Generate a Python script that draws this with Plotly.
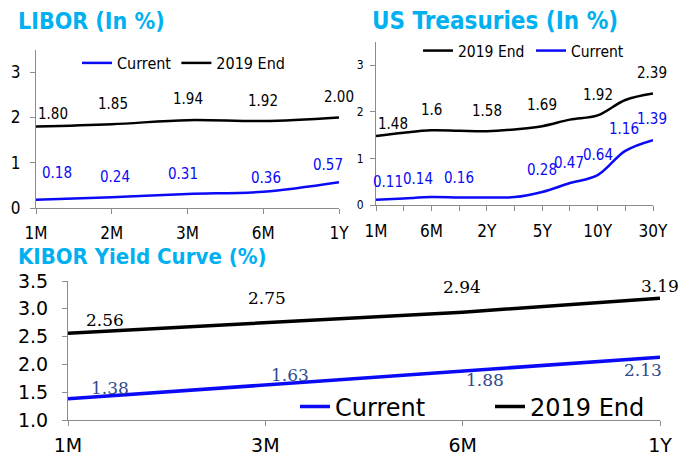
import plotly.graph_objects as go

# ---------------- data ----------------
libor_tenors = ["1M", "2M", "3M", "6M", "1Y"]
libor_current = [0.18, 0.24, 0.31, 0.36, 0.57]
libor_2019 = [1.80, 1.85, 1.94, 1.92, 2.00]

ust_tenors = ["1M", "3M", "6M", "1Y", "2Y", "3Y", "5Y", "7Y", "10Y", "20Y", "30Y"]
ust_tick_labels = ["1M", "", "6M", "", "2Y", "", "5Y", "", "10Y", "", "30Y"]
ust_2019 = [1.48, 1.55, 1.60, 1.59, 1.58, 1.62, 1.69, 1.83, 1.92, 2.25, 2.39]
ust_current = [0.11, 0.14, 0.17, 0.16, 0.16, 0.17, 0.28, 0.47, 0.64, 1.16, 1.39]
ust_2019_labels = ["1.48", "", "1.6", "", "1.58", "", "1.69", "", "1.92", "", "2.39"]
ust_current_labels = ["0.11", "0.14", "", "0.16", "", "", "0.28", "0.47", "0.64", "1.16", "1.39"]

kibor_tenors = ["1M", "3M", "6M", "1Y"]
kibor_current = [1.38, 1.63, 1.88, 2.13]
kibor_2019 = [2.56, 2.75, 2.94, 3.19]

# ---------------- styles ----------------
FONT = "DejaVu Sans Condensed, DejaVu Sans, sans-serif"
REG = "DejaVu Sans, sans-serif"
SERIF = "DejaVu Serif, serif"
BLUE = "#0A0AF5"
TITLE = "#00B0F0"
AX = "#8C8C8C"

W, H = 694, 457
def px(x): return x / W
def py(y): return 1 - y / H

fig = go.Figure()

lib_x = list(range(len(libor_tenors)))
ust_x = list(range(len(ust_tenors)))
kib_x = list(range(len(kibor_tenors)))

# LIBOR
fig.add_trace(go.Scatter(x=lib_x, y=libor_current, name="Current", mode="lines",
                         line=dict(color=BLUE, width=2.5, shape="spline"),
                         xaxis="x", yaxis="y", legend="legend"))
fig.add_trace(go.Scatter(x=lib_x, y=libor_2019, name="2019 End", mode="lines",
                         line=dict(color="black", width=2.5, shape="spline"),
                         xaxis="x", yaxis="y", legend="legend"))
# UST
fig.add_trace(go.Scatter(x=ust_x, y=ust_2019, name="2019 End", mode="lines",
                         line=dict(color="black", width=2.5, shape="spline"),
                         xaxis="x2", yaxis="y2", legend="legend2"))
fig.add_trace(go.Scatter(x=ust_x, y=ust_current, name="Current", mode="lines",
                         line=dict(color=BLUE, width=2.5, shape="spline"),
                         xaxis="x2", yaxis="y2", legend="legend2"))
# KIBOR
fig.add_trace(go.Scatter(x=kib_x, y=kibor_current, name="Current", mode="lines",
                         line=dict(color=BLUE, width=3.5),
                         xaxis="x3", yaxis="y3", legend="legend3"))
fig.add_trace(go.Scatter(x=kib_x, y=kibor_2019, name="2019 End", mode="lines",
                         line=dict(color="black", width=3.5),
                         xaxis="x3", yaxis="y3", legend="legend3"))

ann = []
# label offsets (xshift, yshift)
lib_2019_off = [(17, 12), (1, 20), (0, 21), (0, 20), (0, 20)]
lib_cur_off = [(21, 27), (3, 20), (-5, 20), (3, 14), (-11, 17)]
for i, v in enumerate(libor_2019):
    ann.append(dict(x=i, y=v, xref="x", yref="y", text=f"{v:.2f}", showarrow=False,
                    xshift=lib_2019_off[i][0], yshift=lib_2019_off[i][1],
                    font=dict(family=FONT, size=15, color="black")))
for i, v in enumerate(libor_current):
    ann.append(dict(x=i, y=v, xref="x", yref="y", text=f"{v:.2f}", showarrow=False,
                    xshift=lib_cur_off[i][0], yshift=lib_cur_off[i][1],
                    font=dict(family=FONT, size=15, color=BLUE)))

ust_2019_off = [(17, 12), (0, 21), (0, 20), (0, 0), (0, 20), (0, 0), (0, 21), (0, 0), (0, 20), (0, 0), (-1, 20)]
ust_cur_off = [(12, 18), (14, 19), (0, 0), (0, 20), (0, 0), (0, 0), (0, 22), (-1, 20), (0, 20), (-1, 22), (-1, 21)]
for i, v in enumerate(ust_2019):
    if ust_2019_labels[i]:
        ann.append(dict(x=i, y=v, xref="x2", yref="y2", text=ust_2019_labels[i], showarrow=False,
                        xshift=ust_2019_off[i][0], yshift=ust_2019_off[i][1],
                        font=dict(family=FONT, size=15, color="black")))
for i, v in enumerate(ust_current):
    if ust_current_labels[i]:
        ann.append(dict(x=i, y=v, xref="x2", yref="y2", text=ust_current_labels[i], showarrow=False,
                        xshift=ust_cur_off[i][0], yshift=ust_cur_off[i][1],
                        font=dict(family=FONT, size=15, color=BLUE)))

kib_2019_off = [(37, 13), (2, 25), (-1, 25), (0, 12)]
kib_cur_off = [(42, 11), (25, 10), (22, -9), (-17, -13)]
for i, v in enumerate(kibor_2019):
    ann.append(dict(x=i, y=v, xref="x3", yref="y3", text=f"{v:.2f}", showarrow=False,
                    xshift=kib_2019_off[i][0], yshift=kib_2019_off[i][1],
                    font=dict(family=SERIF, size=17, color="black")))
for i, v in enumerate(kibor_current):
    ann.append(dict(x=i, y=v, xref="x3", yref="y3", text=f"{v:.2f}", showarrow=False,
                    xshift=kib_cur_off[i][0], yshift=kib_cur_off[i][1],
                    font=dict(family=SERIF, size=17, color="#2E4A8E")))

# titles
ann.append(dict(x=px(16), y=py(21), xref="paper", yref="paper", xanchor="left", yanchor="middle",
                text="<b>LIBOR (In %)</b>", showarrow=False, font=dict(family=FONT, size=23, color=TITLE)))
ann.append(dict(x=px(370), y=py(21), xref="paper", yref="paper", xanchor="left", yanchor="middle",
                text="<b>US Treasuries (In %)</b>", showarrow=False, font=dict(family=FONT, size=24, color=TITLE)))
ann.append(dict(x=px(16), y=py(256), xref="paper", yref="paper", xanchor="left", yanchor="middle",
                text="<b>KIBOR Yield Curve (%)</b>", showarrow=False, font=dict(family=FONT, size=22, color=TITLE)))

axis_common = dict(showline=True, linecolor=AX, linewidth=1, ticks="outside", tickcolor=AX,
                   ticklen=5, showgrid=False, zeroline=False, automargin=False)

fig.update_layout(
    width=W, height=H, margin=dict(l=0, r=0, t=0, b=0, autoexpand=False),
    paper_bgcolor="white", plot_bgcolor="white",
    annotations=ann,
    xaxis=dict(domain=[px(36), px(339)], range=[0, len(libor_tenors) - 1], anchor="y",
               tickvals=lib_x, ticktext=libor_tenors, tickfont=dict(family=FONT, size=17, color="black"),
               ticklabelstandoff=5, **axis_common),
    yaxis=dict(domain=[py(208), py(49.5)], range=[0, 3.5], anchor="x", tickvals=[0, 1, 2, 3],
               tickfont=dict(family=FONT, size=17, color="black"), ticklabelstandoff=6, **axis_common),
    xaxis2=dict(domain=[px(376), px(653)], range=[0, len(ust_tenors) - 1], anchor="y2",
                tickvals=ust_x, ticktext=ust_tick_labels, tickfont=dict(family=FONT, size=17, color="black"),
                ticklabelstandoff=6, **axis_common),
    yaxis2=dict(domain=[py(205), py(41.7)], range=[0, 3.5], anchor="x2", tickvals=[0, 1, 2, 3],
                tickfont=dict(family=FONT, size=12, color="black"), ticklabelstandoff=4, **axis_common),
    xaxis3=dict(domain=[px(68), px(660)], range=[0, len(kibor_tenors) - 1], anchor="y3",
                tickvals=kib_x, ticktext=kibor_tenors, tickfont=dict(family=REG, size=19, color="black"),
                ticklabelstandoff=3, **axis_common),
    yaxis3=dict(domain=[py(420), py(281)], range=[1.0, 3.5], anchor="x3",
                tickvals=[1.0, 1.5, 2.0, 2.5, 3.0, 3.5], tickformat=".1f",
                tickfont=dict(family=REG, size=19, color="black"), ticklabelstandoff=10, **axis_common),
    legend=dict(orientation="h", x=px(77), y=py(63), xanchor="left", yanchor="middle",
                bgcolor="rgba(0,0,0,0)", font=dict(family=FONT, size=16, color="black"),
                itemwidth=30, tracegroupgap=0),
    legend2=dict(orientation="h", x=px(418), y=py(51), xanchor="left", yanchor="middle",
                 bgcolor="rgba(0,0,0,0)", font=dict(family=FONT, size=15.5, color="black"),
                 itemwidth=30, entrywidth=68, entrywidthmode="pixels"),
    legend3=dict(orientation="h", x=px(295), y=py(407), xanchor="left", yanchor="middle",
                 bgcolor="rgba(0,0,0,0)", font=dict(family=REG, size=24, color="black"),
                 itemwidth=30, entrywidth=150, entrywidthmode="pixels"),
)

fig.write_html("out.html", config={"displayModeBar": False},
               post_script="document.body.style.margin='0';document.body.style.padding='0';")
